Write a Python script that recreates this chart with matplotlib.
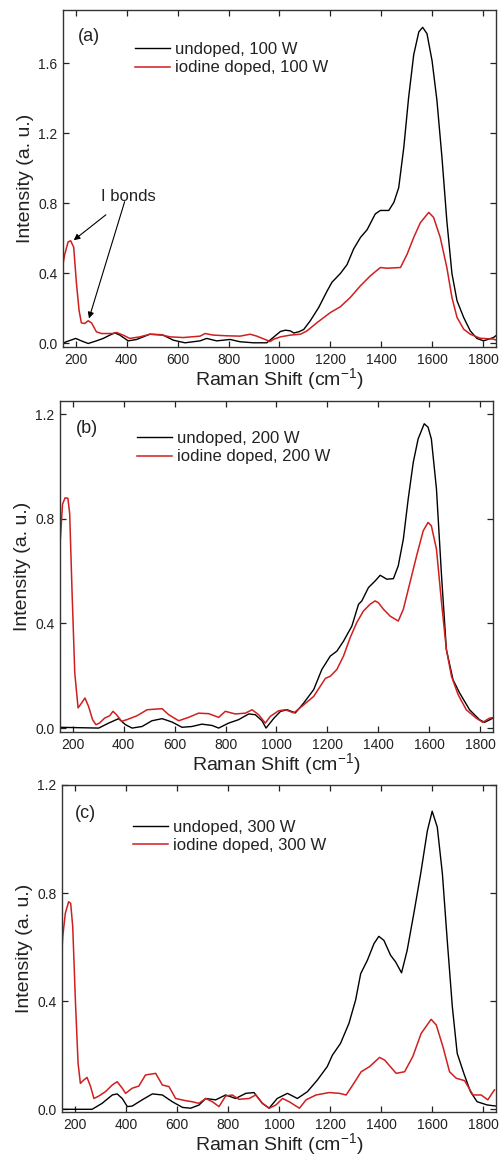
import matplotlib
matplotlib.use("Agg")
import matplotlib.pyplot as plt

plt.rcParams['font.family'] = ['Liberation Sans', 'DejaVu Sans']
plt.rcParams['mathtext.fontset'] = 'custom'
plt.rcParams['mathtext.rm'] = 'Liberation Sans'

#----- panel (a), 100 W
xa_undoped = [148, 163, 200, 222, 249, 281, 308, 334, 353, 373, 406, 439, 491, 543, 583, 629, 688, 714,
              753, 806, 845, 898, 950, 1004, 1023, 1043, 1056, 1076, 1095, 1121, 1154, 1187, 1206, 1239,
              1265, 1291, 1318, 1344, 1376, 1396, 1429, 1449, 1468, 1488, 1507, 1527, 1547, 1562, 1579,
              1599, 1618, 1638, 1657, 1677, 1697, 1723, 1749, 1775, 1801, 1840, 1850]
ya_undoped = [0.0, 0.01, 0.029, 0.015, 0.0, 0.015, 0.029, 0.048, 0.061, 0.048, 0.015, 0.023, 0.053, 0.048,
              0.019, 0.004, 0.015, 0.029, 0.015, 0.023, 0.01, 0.004, 0.004, 0.069, 0.076, 0.072, 0.06,
              0.067, 0.08, 0.13, 0.206, 0.30, 0.35, 0.40, 0.45, 0.54, 0.606, 0.65, 0.74, 0.76, 0.76, 0.806,
              0.89, 1.12, 1.406, 1.65, 1.78, 1.806, 1.77, 1.615, 1.39, 1.06, 0.70, 0.40, 0.244, 0.149,
              0.072, 0.029, 0.015, 0.034, 0.045]
xa_doped = [148, 157, 170, 180, 192, 203, 213, 222, 235, 249, 262, 281, 301, 347, 360, 386, 412, 452, 491,
            530, 570, 622, 688, 708, 740, 793, 845, 885, 911, 950, 963, 978, 1004, 1043, 1082, 1108, 1148,
            1200, 1239, 1278, 1318, 1357, 1396, 1422, 1475, 1501, 1527, 1553, 1586, 1605, 1631, 1657,
            1677, 1697, 1723, 1749, 1788, 1840, 1850]
ya_doped = [0.44, 0.51, 0.58, 0.587, 0.55, 0.34, 0.19, 0.118, 0.114, 0.13, 0.118, 0.067, 0.057, 0.057,
            0.063, 0.048, 0.029, 0.038, 0.053, 0.051, 0.038, 0.034, 0.042, 0.057, 0.048, 0.044, 0.042,
            0.053, 0.042, 0.019, 0.011, 0.025, 0.038, 0.048, 0.053, 0.072, 0.12, 0.177, 0.21, 0.263,
            0.33, 0.387, 0.434, 0.43, 0.434, 0.51, 0.606, 0.69, 0.749, 0.72, 0.606, 0.434, 0.263, 0.149,
            0.082, 0.053, 0.03, 0.025, 0.02]

#----- panel (b), 200 W
xb_undoped = [145, 302, 341, 380, 407, 433, 472, 511, 551, 590, 629, 668, 707, 747, 773, 812, 851, 891,
              917, 943, 959, 990, 1016, 1042, 1074, 1107, 1146, 1178, 1211, 1237, 1263, 1296, 1322, 1335,
              1361, 1387, 1407, 1433, 1459, 1478, 1498, 1517, 1537, 1556, 1580, 1595, 1608, 1628, 1648,
              1667, 1693, 1719, 1758, 1797, 1817, 1850]
yb_undoped = [0.003, 0.0, 0.019, 0.036, 0.013, 0.0, 0.006, 0.028, 0.036, 0.023, 0.003, 0.006, 0.015, 0.01,
              0.0, 0.019, 0.032, 0.054, 0.051, 0.028, 0.0, 0.038, 0.064, 0.07, 0.058, 0.096, 0.147, 0.224,
              0.275, 0.294, 0.332, 0.39, 0.473, 0.486, 0.537, 0.562, 0.584, 0.569, 0.571, 0.62, 0.722,
              0.875, 1.016, 1.105, 1.163, 1.15, 1.105, 0.914, 0.581, 0.30, 0.185, 0.134, 0.07, 0.032,
              0.022, 0.038]
xb_doped = [144, 150, 160, 170, 181, 188, 197, 208, 221, 235, 248, 262, 278, 291, 305, 325, 345, 358, 372,
            392, 412, 452, 492, 533, 551, 577, 616, 655, 694, 734, 773, 799, 838, 878, 904, 930, 956, 976,
            1008, 1034, 1068, 1107, 1146, 1172, 1192, 1211, 1237, 1263, 1289, 1315, 1341, 1367, 1387,
            1400, 1420, 1446, 1478, 1498, 1524, 1550, 1576, 1595, 1608, 1628, 1648, 1667, 1687, 1713,
            1745, 1784, 1810, 1836, 1850]
yb_doped = [0.633, 0.70, 0.856, 0.88, 0.878, 0.82, 0.53, 0.21, 0.077, 0.096, 0.115, 0.083, 0.032, 0.013,
            0.019, 0.038, 0.047, 0.064, 0.051, 0.026, 0.032, 0.047, 0.07, 0.073, 0.074, 0.051, 0.028,
            0.041, 0.057, 0.055, 0.041, 0.064, 0.054, 0.057, 0.07, 0.051, 0.019, 0.045, 0.066, 0.07,
            0.058, 0.089, 0.121, 0.16, 0.19, 0.198, 0.224, 0.275, 0.345, 0.403, 0.447, 0.473, 0.486,
            0.479, 0.454, 0.428, 0.409, 0.454, 0.556, 0.658, 0.754, 0.786, 0.773, 0.684, 0.479, 0.30,
            0.198, 0.128, 0.07, 0.038, 0.022, 0.038, 0.04]

#----- panel (c), 300 W
xc_undoped = [145, 268, 307, 347, 366, 386, 406, 425, 464, 504, 543, 582, 622, 654, 687, 713, 752, 791,
              830, 870, 902, 935, 961, 993, 1033, 1072, 1111, 1150, 1189, 1209, 1241, 1274, 1300, 1320,
              1346, 1372, 1391, 1411, 1437, 1457, 1480, 1502, 1528, 1555, 1581, 1600, 1620, 1640, 1659,
              1679, 1698, 1724, 1750, 1776, 1816, 1850]
yc_undoped = [0.0, 0.0, 0.022, 0.053, 0.057, 0.04, 0.01, 0.012, 0.035, 0.057, 0.053, 0.028, 0.007, 0.004,
              0.016, 0.04, 0.035, 0.053, 0.04, 0.059, 0.062, 0.022, 0.004, 0.04, 0.059, 0.04, 0.065,
              0.108, 0.158, 0.2, 0.244, 0.318, 0.404, 0.502, 0.551, 0.613, 0.64, 0.625, 0.57, 0.545,
              0.505, 0.588, 0.724, 0.872, 1.03, 1.103, 1.044, 0.872, 0.625, 0.379, 0.207, 0.133, 0.065,
              0.028, 0.016, 0.012]
xc_doped = [145, 153, 163, 176, 184, 192, 203, 213, 222, 235, 248, 262, 275, 294, 320, 347, 366, 386, 399,
            425, 451, 477, 517, 543, 569, 595, 634, 660, 686, 713, 739, 765, 791, 817, 843, 883, 909, 935,
            962, 988, 1014, 1040, 1080, 1106, 1145, 1197, 1237, 1263, 1289, 1322, 1355, 1394, 1414, 1459,
            1492, 1524, 1557, 1596, 1616, 1642, 1668, 1694, 1727, 1760, 1792, 1818, 1844]
yc_doped = [0.51, 0.64, 0.725, 0.768, 0.762, 0.676, 0.39, 0.17, 0.096, 0.108, 0.118, 0.084, 0.04, 0.049,
            0.065, 0.09, 0.102, 0.078, 0.059, 0.078, 0.086, 0.127, 0.133, 0.09, 0.084, 0.04, 0.032, 0.028,
            0.022, 0.04, 0.028, 0.01, 0.049, 0.053, 0.037, 0.04, 0.053, 0.022, 0.004, 0.016, 0.04, 0.028,
            0.004, 0.035, 0.053, 0.062, 0.059, 0.053, 0.09, 0.139, 0.158, 0.192, 0.182, 0.133, 0.139,
            0.195, 0.281, 0.333, 0.312, 0.232, 0.139, 0.115, 0.106, 0.053, 0.053, 0.035, 0.072]

labels = ["(a)", "(b)", "(c)"]
powers = ["100 W", "200 W", "300 W"]
yticks = [[0.0, 0.4, 0.8, 1.2, 1.6], [0.0, 0.4, 0.8, 1.2], [0.0, 0.4, 0.8, 1.2]]
ylims = [(-0.02, 1.905), (-0.015, 1.25), (-0.01, 1.2)]
xticks = [200, 400, 600, 800, 1000, 1200, 1400, 1600, 1800]

undoped = [(xa_undoped, ya_undoped), (xb_undoped, yb_undoped), (xc_undoped, yc_undoped)]
doped = [(xa_doped, ya_doped), (xb_doped, yb_doped), (xc_doped, yc_doped)]

W, H = 502, 1158
# axes boxes in pixels: left, top, right, bottom
boxes = [(63, 10, 496, 347), (60, 401, 493, 732), (62, 785, 496, 1112)]
legend_pos = [(0.166, 0.905), (0.178, 0.909), (0.164, 0.893)]
label_pos = [(0.035, 0.947), (0.037, 0.943), (0.030, 0.940)]

txt = '#222222'
red = '#d01f1f'

fig = plt.figure(figsize=(W / 100, H / 100), dpi=100)

for i in range(3):
    l, t, r, b = boxes[i]
    ax = fig.add_axes([l / W, 1 - b / H, (r - l) / W, (b - t) / H])

    ax.plot(undoped[i][0], undoped[i][1], color='black', lw=1.0, label=f'undoped, {powers[i]}')
    ax.plot(doped[i][0], doped[i][1], color=red, lw=1.1, label=f'iodine doped, {powers[i]}')

    ax.set_xlim(150, 1850)
    ax.set_ylim(*ylims[i])
    ax.set_xticks(xticks)
    ax.set_yticks(yticks[i])
    ax.set_yticklabels([f'{v:.1f}' for v in yticks[i]])

    ax.tick_params(direction='in', top=True, right=True, length=4, width=0.9,
                   labelsize=10, pad=4, colors=txt)
    for s in ax.spines.values():
        s.set_linewidth(1.0)
        s.set_color('#333333')

    ax.set_xlabel('Raman Shift (cm$^{\\mathregular{-1}}$)', fontsize=14, color=txt, labelpad=0)
    ax.set_ylabel('Intensity (a. u.)', fontsize=14, color=txt, labelpad=3)

    ax.text(label_pos[i][0], label_pos[i][1], labels[i], transform=ax.transAxes,
            fontsize=13, va='top', ha='left', color=txt)

    ax.legend(loc='upper left', bbox_to_anchor=legend_pos[i], frameon=False, fontsize=12,
              handlelength=2.1, handletextpad=0.3, labelspacing=0.2, borderpad=0,
              borderaxespad=0, labelcolor=txt)

    if i == 0:
        # arrows to the iodine peaks
        ax.annotate('I bonds', xy=(192, 0.59), xytext=(408, 0.838), fontsize=12, color=txt,
                    ha='center', va='center',
                    arrowprops=dict(arrowstyle='-|>', color='black', lw=0.8, mutation_scale=9,
                                    shrinkA=9, shrinkB=0))
        ax.annotate('', xy=(252, 0.143), xytext=(392, 0.81),
                    arrowprops=dict(arrowstyle='-|>', color='black', lw=0.8, mutation_scale=9,
                                    shrinkA=0, shrinkB=0))

plt.savefig('out.png', dpi=100)
